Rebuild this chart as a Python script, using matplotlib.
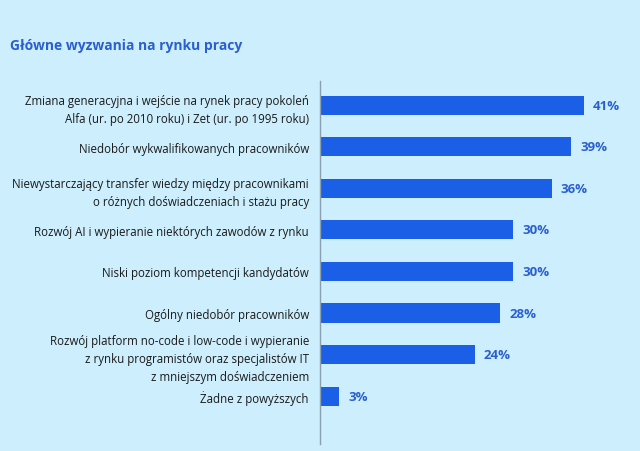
import matplotlib
matplotlib.use("Agg")
import matplotlib.pyplot as plt

categories = [
    "Zmiana generacyjna i wejście na rynek pracy pokoleń\nAlfa (ur. po 2010 roku) i Zet (ur. po 1995 roku)",
    "Niedobór wykwalifikowanych pracowników",
    "Niewystarczający transfer wiedzy między pracownikami\no różnych doświadczeniach i stażu pracy",
    "Rozwój AI i wypieranie niektórych zawodów z rynku",
    "Niski poziom kompetencji kandydatów",
    "Ogólny niedobór pracowników",
    "Rozwój platform no-code i low-code i wypieranie\nz rynku programistów oraz specjalistów IT\nz mniejszym doświadczeniem",
    "Żadne z powyższych",
]
values = [41, 39, 36, 30, 30, 28, 24, 3]
title = "Główne wyzwania na rynku pracy"

bg = "#cdeefc"
blue = "#1a5fe6"
fig = plt.figure(figsize=(6.4, 4.52), dpi=100, facecolor=bg)
ax = fig.add_axes([0.5, 0.0155, 0.5, 0.803])
ax.set_facecolor(bg)
y = list(range(len(values)))
ax.barh(y, values, height=0.46, color=blue)
ax.set_xlim(0, 49.7)
ax.set_ylim(8.15, -0.58)
for yi, v in zip(y, values):
    ax.text(v + 1.4, yi, f"{v}%", va="center", ha="left", color="#2a5fd0",
            fontsize=9.5, fontweight="bold", family="Open Sans")
ax.set_yticks(y)
ax.set_yticklabels(categories, fontsize=8.3, color="#1a1a1a", family="Open Sans", linespacing=1.5)
ax.tick_params(axis="y", length=0, pad=8)
ax.set_xticks([])
for s in ["top", "right", "bottom"]:
    ax.spines[s].set_visible(False)
ax.spines["left"].set_color("#8aa0b0")
ax.spines["left"].set_linewidth(1)
fig.text(10/640, 1-46/452, title, fontsize=10, fontweight="bold", color="#2a5fd0",
         family="Open Sans", va="center", ha="left")
fig.savefig("out.png", dpi=100, facecolor=bg)
